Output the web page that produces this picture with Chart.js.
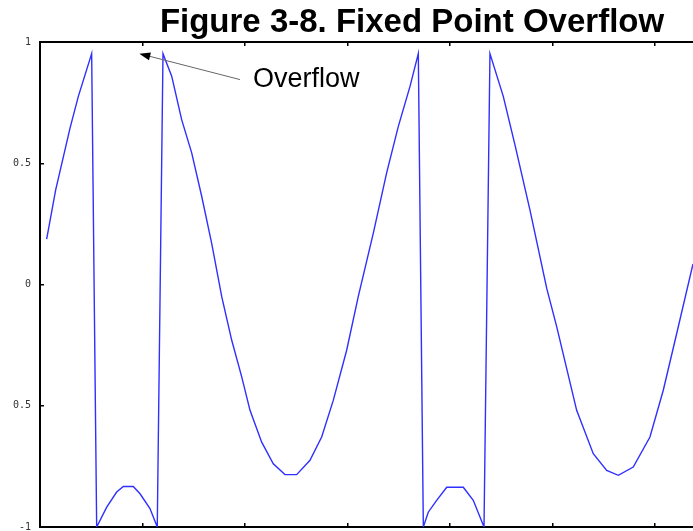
<!DOCTYPE html>
<html>
<head>
<meta charset="utf-8">
<script src="https://cdn.jsdelivr.net/npm/chart.js@4"></script>
<style>
  html, body { margin: 0; padding: 0; background: #fff; }
  #wrap { width: 693px; height: 531px; position: relative; }
</style>
</head>
<body>
<div id="wrap"><canvas id="overflowChart"></canvas></div>
<script>
// x in tick units (one tick per unit), y = wrapped fixed point value
const xValues = [0.065, 0.153, 0.293, 0.374, 0.504, 0.553, 0.651, 0.748, 0.813, 0.910, 0.976, 1.073, 1.144,
    1.200, 1.285, 1.382, 1.480, 1.578, 1.675, 1.773, 1.870, 1.968, 2.049, 2.163, 2.276, 2.390, 2.504,
    2.634, 2.748, 2.862, 2.992, 3.105, 3.252, 3.382, 3.496, 3.610, 3.691, 3.740, 3.788, 3.870, 3.968,
    4.130, 4.227, 4.332, 4.390, 4.520, 4.634, 4.780, 4.944, 5.041, 5.236, 5.398, 5.529, 5.642, 5.788,
    5.951, 6.081, 6.212, 6.371];
const yValues = [0.187, 0.390, 0.645, 0.776, 0.952, -1.0, -0.918, -0.856, -0.833, -0.833, -0.863, -0.924, -1.0,
    0.952, 0.859, 0.680, 0.543, 0.363, 0.170, -0.050, -0.229, -0.381, -0.519, -0.650, -0.739, -0.784, -0.784,
    -0.725, -0.629, -0.477, -0.271, -0.050, 0.212, 0.460, 0.652, 0.817, 0.952, -1.0, -0.939, -0.890, -0.836,
    -0.836, -0.890, -1.0, 0.952, 0.776, 0.576, 0.308, -0.016, -0.174, -0.519, -0.698, -0.767, -0.787, -0.753,
    -0.629, -0.436, -0.202, 0.085];

const yTicks = [-1, -0.5, 0, 0.5, 1];
const yTickLabels = ["-1", "0.5", "0", "0.5", "1"];

const titleText = "Figure 3-8. Fixed Point Overflow";
const noteText = "Overflow";
const arrowFrom = { x: 1.951, y: 0.845 };
const arrowTo = { x: 0.969, y: 0.952 };

let points = xValues.map((x, i) => ({ x: x, y: yValues[i] }));

// title, note and arrow on top of the plot
const notesPlugin = {
    id: "notes",
    afterDraw(chart) {
        const ctx = chart.ctx;
        const xs = chart.scales.x, ys = chart.scales.y;
        ctx.save();
        ctx.fillStyle = "#000";
        ctx.textAlign = "center";
        ctx.textBaseline = "alphabetic";
        ctx.font = "bold 33px 'Liberation Sans', Arial, sans-serif";
        ctx.fillText(titleText, 412, 32);

        ctx.textAlign = "left";
        ctx.font = "27px 'Liberation Sans', Arial, sans-serif";
        ctx.fillText(noteText, 253, 87);

        let x1 = xs.getPixelForValue(arrowFrom.x), y1 = ys.getPixelForValue(arrowFrom.y);
        let x2 = xs.getPixelForValue(arrowTo.x), y2 = ys.getPixelForValue(arrowTo.y);
        let ang = Math.atan2(y2 - y1, x2 - x1);
        ctx.strokeStyle = "#666";
        ctx.lineWidth = 1;
        ctx.beginPath();
        ctx.moveTo(x1, y1);
        ctx.lineTo(x2 - 8 * Math.cos(ang), y2 - 8 * Math.sin(ang));
        ctx.stroke();
        ctx.fillStyle = "#000";
        ctx.beginPath();
        ctx.moveTo(x2, y2);
        ctx.lineTo(x2 - 11 * Math.cos(ang) + 4 * Math.sin(ang), y2 - 11 * Math.sin(ang) - 4 * Math.cos(ang));
        ctx.lineTo(x2 - 11 * Math.cos(ang) - 4 * Math.sin(ang), y2 - 11 * Math.sin(ang) + 4 * Math.cos(ang));
        ctx.closePath();
        ctx.fill();
        ctx.restore();
    }
};

const innerTicks = { display: true, drawOnChartArea: false, drawTicks: true, tickLength: -4, color: "#000", lineWidth: 1.5 };

new Chart(document.getElementById("overflowChart").getContext("2d"), {
    type: "line",
    data: {
        datasets: [{
            data: points,
            borderColor: "#2f2fff",
            borderWidth: 1.4,
            pointRadius: 0,
            tension: 0,
            fill: false
        }]
    },
    options: {
        responsive: true,
        maintainAspectRatio: false,
        animation: false,
        layout: { padding: 0 },
        plugins: {
            legend: { display: false },
            tooltip: { enabled: false },
            title: { display: false }
        },
        scales: {
            x: {
                type: "linear",
                position: "bottom",
                min: 0,
                max: 6.371,
                ticks: { display: false, stepSize: 1, includeBounds: false },
                grid: innerTicks,
                border: { display: true, color: "#000", width: 2 },
                afterFit(scale) { scale.height = 4; scale.paddingLeft = 0; scale.paddingRight = 0; }
            },
            x2: {
                type: "linear",
                position: "top",
                min: 0,
                max: 6.371,
                ticks: { display: false, stepSize: 1, includeBounds: false },
                grid: innerTicks,
                border: { display: true, color: "#000", width: 2 },
                afterFit(scale) { scale.height = 42; scale.paddingLeft = 0; scale.paddingRight = 0; }
            },
            y: {
                min: -1,
                max: 1,
                afterBuildTicks(scale) { scale.ticks = yTicks.map(v => ({ value: v })); },
                ticks: {
                    padding: 13,
                    color: "#333",
                    font: { family: "'DejaVu Sans Mono', monospace", size: 10 },
                    callback: function (value) {
                        let i = yTicks.indexOf(value);
                        return i >= 0 ? yTickLabels[i] : "";
                    }
                },
                grid: innerTicks,
                border: { display: true, color: "#000", width: 2 },
                afterFit(scale) { scale.width = 40; scale.paddingTop = 0; scale.paddingBottom = 0; }
            }
        }
    },
    plugins: [notesPlugin]
});
</script>
</body>
</html>
